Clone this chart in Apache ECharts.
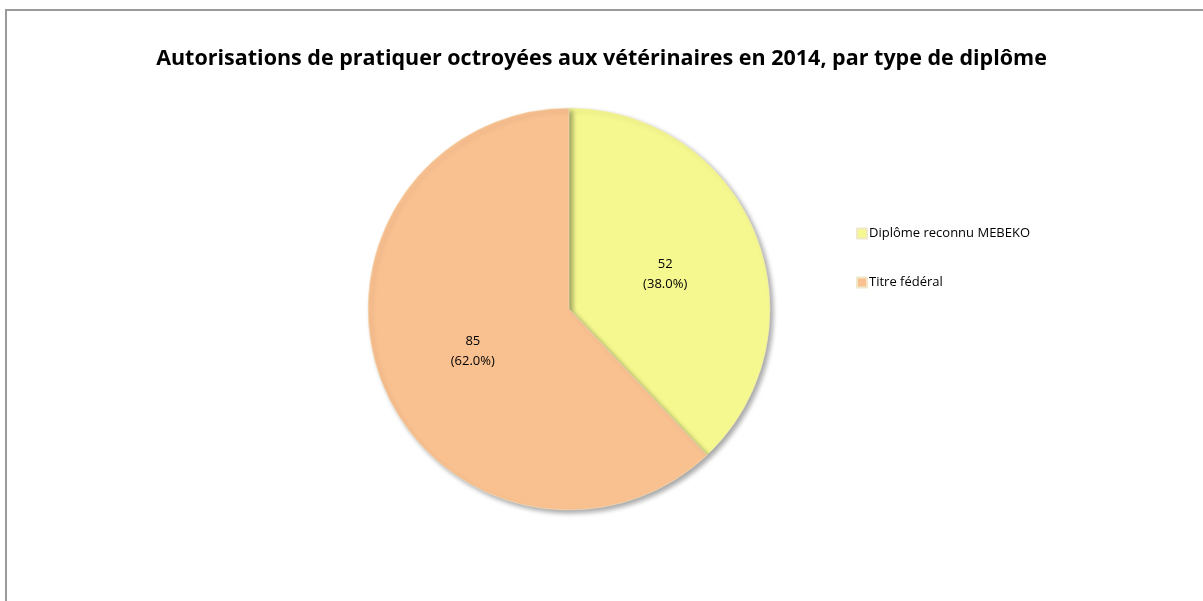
<!DOCTYPE html>
<html>
<head>
<meta charset="utf-8">
<script src="https://cdn.jsdelivr.net/npm/echarts@6/dist/echarts.min.js"></script>
<style>
  html, body { margin: 0; padding: 0; background: #fff; }
  #chart { width: 1203px; height: 601px; }
</style>
</head>
<body>
<div id="chart"></div>
<script>
var titleText = 'Autorisations de pratiquer octroyées aux vétérinaires en 2014, par type de diplôme';
var categories = ['Diplôme reconnu MEBEKO', 'Titre fédéral'];
var values = [52, 85];
var colors = ['#F5F88F', '#F9C090'];

var myChart = echarts.init(document.getElementById('chart'));

var option = {
    color: colors,
    animation: false,
    title: {
        text: titleText,
        left: 'center',
        top: 43,
        textStyle: {
            fontFamily: 'Open Sans',
            fontWeight: 'bold',
            fontSize: 21.5,
            color: '#000'
        }
    },
    legend: {
        orient: 'vertical',
        left: 851,
        top: 222,
        itemWidth: 10,
        itemHeight: 10,
        itemGap: 36,
        icon: 'rect',
        data: categories,
        textStyle: {
            fontFamily: 'Open Sans',
            fontSize: 13,
            color: '#000',
            padding: [0, 0, 0, -3]
        }
    },
    graphic: [
        {
            type: 'rect',
            shape: { x: 6, y: 10, width: 1400, height: 800 },
            style: { fill: 'none', stroke: '#9a9a9a', lineWidth: 2 }
        }
    ],
    series: [
        {
            type: 'pie',
            center: [569, 309],
            radius: 201,
            startAngle: 90,
            clockwise: true,
            label: {
                position: 'inside',
                formatter: function (p) {
                    return p.value + '\n(' + p.percent.toFixed(1) + '%)';
                },
                fontFamily: 'Open Sans',
                fontSize: 13,
                lineHeight: 20,
                offset: [0, 4],
                color: '#000'
            },
            labelLine: { show: false },
            itemStyle: {
                borderColor: '#f0e8c8',
                borderWidth: 0.5,
                shadowBlur: 5,
                shadowOffsetX: 3,
                shadowOffsetY: 3,
                shadowColor: 'rgba(0,0,0,0.35)'
            },
            emphasis: { disabled: true },
            data: categories.map(function (c, i) {
                return { name: c, value: values[i] };
            })
        }
    ]
};

myChart.setOption(option);
</script>
</body>
</html>
